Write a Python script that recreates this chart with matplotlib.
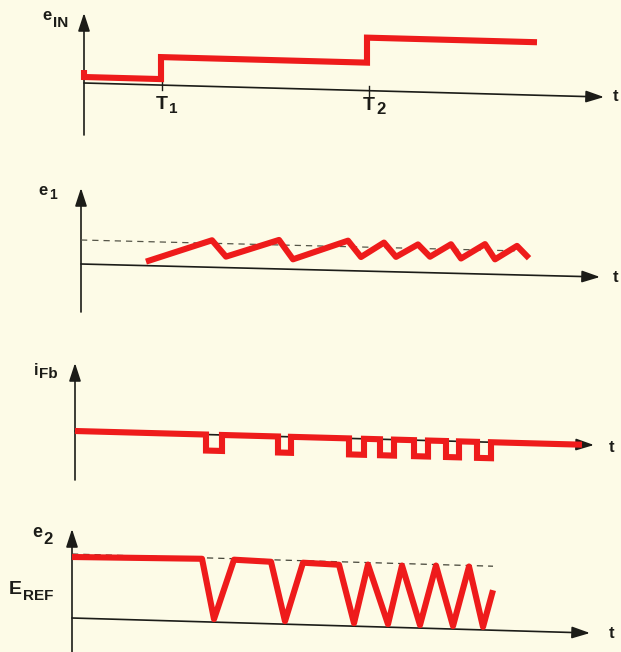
"""
formas de onda del convertidor: e_IN, e1, i_Fb, e2
(dibujo escaneado, los ejes estan un poco inclinados)
"""
import numpy as np
import matplotlib.pyplot as plt
from matplotlib.transforms import Affine2D

# --- datos (t, v), en px respecto al origen de cada eje ---
ein_t = [0, 0, 77, 77, 283, 283, 453]
ein_v = [13, 6, 6, 28, 28, 53, 53]
marcas_t = [78, 285]

e1_t = [65, 131, 145, 198, 212, 267, 280, 303, 315, 337, 349, 370, 380, 404, 414, 436, 448]
e1_v = [4, 27, 11, 29, 10, 30, 14, 29, 15, 28, 16, 29, 15, 30, 15, 29, 17]
e1_umbral = 24
e1_umbral_fin = 438

ifb_ini = [131, 203, 274, 305, 339, 371, 402]
ifb_fin = [147, 216, 289, 319, 353, 384, 416]
ifb_nivel = 0
ifb_bajo = -16
ifb_final = 507

e2_t = [0, 130, 142, 162, 199, 213, 231, 267, 282, 296, 316, 330, 348, 364, 381, 397, 411, 421]
e2_v = [61, 63, 3, 63, 62, 3, 62, 61, 3, 62, 3, 62, 3, 63, 3, 63, 3, 40]
e_ref = 64
e_ref_fin = 421

# onda cuadrada de i_Fb a partir de los pulsos
ifb_t = [0]
ifb_v = [ifb_nivel]
for a, b in zip(ifb_ini, ifb_fin):
    ifb_t += [a, a, b, b]
    ifb_v += [ifb_nivel, ifb_bajo, ifb_bajo, ifb_nivel]
ifb_t.append(ifb_final)
ifb_v.append(ifb_nivel)

W, H = 621, 652
fondo = '#fdfbe7'
rojo = '#ee1b1b'
negro = '#1c1c18'
LW = 4.4

fig = plt.figure(figsize=(W / 100, H / 100), dpi=100, facecolor=fondo)


def panel(x0, y0, pendiente):
    ax = fig.add_axes([0, 0, 1, 1])
    ax.set_xlim(-x0, W - x0)
    ax.set_ylim(y0 - H, y0)
    ax.axis('off')
    tr = Affine2D().skew(0, -np.arctan(pendiente)) + ax.transData
    return ax, tr


def ejes(ax, tr, abajo, arriba, largo):
    flecha = dict(arrowstyle='-|>,head_length=1.1,head_width=0.36',
                  color=negro, lw=1.2, mutation_scale=10, shrinkA=0, shrinkB=0)
    ax.annotate('', xy=(0, arriba), xytext=(0, abajo), xycoords=tr,
                textcoords=tr, arrowprops=flecha, zorder=1)
    ax.annotate('', xy=(largo, 0), xytext=(0, 0), xycoords=tr,
                textcoords=tr, arrowprops=flecha, zorder=1)


# e_IN
ax, tr = panel(84, 83, 0.027)
ejes(ax, tr, -52, 70, 520)
ax.plot(ein_t, ein_v, color=rojo, lw=LW, transform=tr, zorder=3,
        solid_joinstyle='miter', solid_capstyle='butt')
for t in marcas_t:
    ax.plot([t, t], [-5, 5], color=negro, lw=1, transform=tr, zorder=1)

# e1
ax, tr = panel(81, 264, 0.025)
ejes(ax, tr, -48, 76, 519)
ax.plot([0, e1_umbral_fin], [e1_umbral, e1_umbral], color='#555548',
        lw=0.9, ls=(0, (5, 4)), transform=tr, zorder=2)
ax.plot(e1_t, e1_v, color=rojo, lw=LW, transform=tr, zorder=3,
        solid_joinstyle='round', solid_capstyle='butt')

# i_Fb
ax, tr = panel(75, 431, 0.027)
ejes(ax, tr, -49, 68, 519)
ax.plot(ifb_t, ifb_v, color=rojo, lw=LW, transform=tr, zorder=3,
        solid_joinstyle='miter', solid_capstyle='butt')

# e2
ax, tr = panel(72, 618, 0.029)
ejes(ax, tr, -40, 89, 518)
ax.plot([0, e_ref_fin], [e_ref, e_ref], color='#444438', lw=0.9,
        ls=(0, (5, 4)), transform=tr, zorder=2)
ax.plot(e2_t, e2_v, color=rojo, lw=LW, transform=tr, zorder=3,
        solid_joinstyle='round', solid_capstyle='butt')

# rotulos (letras a mano: letra + subindice casi del mismo tamano)
txt = fig.add_axes([0, 0, 1, 1])
txt.set_xlim(0, W)
txt.set_ylim(H, 0)
txt.axis('off')
fuente = dict(family='Liberation Sans', fontweight='bold', color=negro,
              va='baseline')


def rotulo(x, y, letra, sub, s1, s2, dy):
    txt.text(x, y, letra, fontsize=s1, ha='right', **fuente)
    txt.text(x + 1, y + dy, sub, fontsize=s2, ha='left', **fuente)


rotulo(52, 20, 'e', 'IN', 12, 11, 7)
rotulo(168, 109, 'T', '1', 14, 11, 4)
rotulo(375, 110, 'T', '2', 14, 12, 4)
rotulo(48, 195, 'e', '1', 12, 10, 4)
rotulo(38, 375, 'i', 'Fb', 12, 11, 3)
rotulo(42, 537, 'e', '2', 13, 12, 7)
rotulo(22, 594, 'E', 'REF', 14, 11, 6)
for x, y in [(613, 101), (613, 282), (609, 452), (609, 638)]:
    txt.text(x, y, 't', fontsize=12, ha='left', **fuente)

fig.savefig('out.png', dpi=100, facecolor=fondo)
